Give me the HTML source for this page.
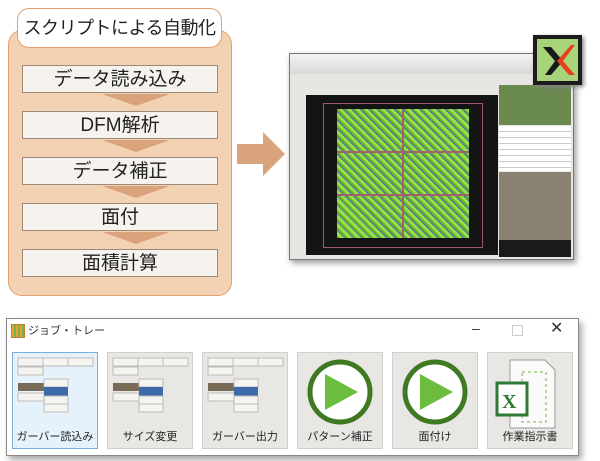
<!DOCTYPE html>
<html><head><meta charset="utf-8"><style>
body{margin:0;width:600px;height:461px;background:#fff;position:relative;overflow:hidden;font-family:"Liberation Sans","Noto Sans CJK JP",sans-serif}
.a{position:absolute}
.box{position:absolute;left:22px;width:196px;height:28px;background:#f6f3ef;border:1px solid #9a8a7a;box-sizing:border-box;text-align:center;font-size:19px;line-height:27px;color:#222}
.chev{position:absolute;left:102px;width:0;height:0;border-left:34px solid transparent;border-right:34px solid transparent;border-top:12px solid #d9a47c}
.btn{position:absolute;top:352px;width:86px;height:97px;background:#e9e7e4;border:1px solid #d2d0cc;box-sizing:border-box}
.btn span{position:absolute;left:0;right:0;bottom:4px;text-align:center;font-size:11px;color:#222}
</style></head><body>
<div class="a" style="left:8px;top:30px;width:224px;height:266px;background:#f3d2b3;border:1.5px solid #e3a070;border-radius:14px;box-sizing:border-box"></div>
<div class="a" style="left:17px;top:8px;width:205px;height:40px;background:#fff;border:1.5px solid #e3a070;border-radius:12px;box-sizing:border-box;text-align:center;font-size:18px;letter-spacing:-0.5px;white-space:nowrap;line-height:38px;color:#222">スクリプトによる自動化</div>
<div class="box" style="top:65px">データ読み込み</div>
<div class="chev" style="top:94px"></div>
<div class="box" style="top:111px">DFM解析</div>
<div class="chev" style="top:140px"></div>
<div class="box" style="top:157px">データ補正</div>
<div class="chev" style="top:186px"></div>
<div class="box" style="top:203px">面付</div>
<div class="chev" style="top:232px"></div>
<div class="box" style="top:249px">面積計算</div>
<svg class="a" style="left:237px;top:130px" width="50" height="48"><polygon points="0,14 26,14 26,2 48,24 26,46 26,34 0,34" fill="#d9a47c"/></svg>
<!-- screenshot -->
<div class="a" style="left:289px;top:53px;width:283px;height:205px;background:#e8e6e2;border:1px solid #777;box-shadow:2px 3px 6px #999"></div>
<div class="a" style="left:290px;top:54px;width:281px;height:20px;background:linear-gradient(#f4f4f4,#d8d8d8)"></div>
<div class="a" style="left:306px;top:95px;width:192px;height:160px;background:#141414"></div>
<div class="a" style="left:323px;top:103px;width:158px;height:143px;border:1px solid #9a5a6a"></div>
<div class="a" style="left:337px;top:109px;width:132px;height:129px;background:#8ccf3a;background-image:repeating-linear-gradient(45deg,#6cb02a 0 2px,#9ae048 2px 5px,#3f6fb0 5px 6px)"></div>
<div class="a" style="left:402px;top:109px;width:2px;height:129px;background:#a06070"></div>
<div class="a" style="left:337px;top:151px;width:132px;height:2px;background:#a06070"></div>
<div class="a" style="left:337px;top:194px;width:132px;height:2px;background:#a06070"></div>
<div class="a" style="left:499px;top:85px;width:72px;height:40px;background:#6a8a50"></div>
<div class="a" style="left:499px;top:126px;width:72px;height:45px;background:#f0f0f0;background-image:repeating-linear-gradient(#fff 0 5px,#ccc 5px 6px)"></div>
<div class="a" style="left:499px;top:172px;width:72px;height:85px;background:#8a8272"></div>
<div class="a" style="left:499px;top:240px;width:72px;height:17px;background:#1a1a1a"></div>
<div class="a" style="left:533px;top:35px;width:49px;height:50px;background:#1c1c1c;box-shadow:2px 2px 4px #888"></div>
<svg class="a" style="left:537px;top:39px" width="41" height="42"><rect width="41" height="42" fill="#a7d47a"/><polygon points="6,8 14,8 26,22 14,36 8,36 18,22" fill="#1a1a1a"/><polygon points="34,6 38,6 26,22 38,36 32,36 20,22" fill="#e8401c"/></svg>
<!-- job tray -->
<div class="a" style="left:6px;top:318px;width:573px;height:138px;background:#fff;border:1px solid #888;box-shadow:3px 4px 6px #aaa;box-sizing:border-box"></div>
<div class="a" style="left:11px;top:324px;width:12px;height:12px;background:repeating-linear-gradient(90deg,#e8a030 0 2px,#7ab04a 2px 4px);border:1px solid #c08030"></div>
<div class="a" style="left:28px;top:322px;font-size:11px;color:#333">ジョブ・トレー</div>
<div class="a" style="left:472px;top:320px;font-size:14px;color:#333">–</div>
<div class="a" style="left:512px;top:325px;width:9px;height:9px;border:1px solid #ccc"></div>
<div class="a" style="left:550px;top:318px;font-size:16px;color:#333">✕</div>
<div class="btn" style="left:12px;background:#e6f2fb;border-color:#7aaee0"><span>ガーバー読込み</span></div>
<div class="btn" style="left:107px"><span>サイズ変更</span></div>
<div class="btn" style="left:202px"><span>ガーバー出力</span></div>
<div class="btn" style="left:297px"><span>パターン補正</span></div>
<div class="btn" style="left:392px"><span>面付け</span></div>
<div class="btn" style="left:487px"><span>作業指示書</span></div>
<svg class="a" style="left:0;top:0" width="600" height="461">
<g id="t">
<rect x="18" y="358" width="25" height="8" fill="#f6f4f0" stroke="#bbb"/>
<rect x="43" y="358" width="25" height="8" fill="#f6f4f0" stroke="#bbb"/>
<rect x="68" y="358" width="25" height="8" fill="#f6f4f0" stroke="#bbb"/>
<rect x="18" y="367" width="25" height="8" fill="#f6f4f0" stroke="#bbb"/>
<rect x="18" y="383" width="26" height="8" fill="#7a6a58"/>
<rect x="18" y="393" width="26" height="8" fill="#f6f4f0" stroke="#bbb"/>
<rect x="44" y="379" width="24" height="8" fill="#f6f4f0" stroke="#bbb"/>
<rect x="44" y="387" width="24" height="9" fill="#3d6aa8"/>
<rect x="44" y="396" width="24" height="8" fill="#f6f4f0" stroke="#bbb"/>
<rect x="44" y="404" width="24" height="8" fill="#f6f4f0" stroke="#bbb"/>
</g>
<use href="#t" x="95"/><use href="#t" x="190"/>
<circle cx="340" cy="392" r="30" fill="#fff" stroke="#3f7a22" stroke-width="5"/>
<polygon points="325,374 325,410 358,392" fill="#6cbd3e"/>
<circle cx="435" cy="392" r="30" fill="#fff" stroke="#3f7a22" stroke-width="5"/>
<polygon points="420,374 420,410 453,392" fill="#6cbd3e"/>
<path d="M510 360 h35 l10 10 v58 h-45z" fill="#fafafa" stroke="#999"/>
<rect x="522" y="372" width="24" height="50" fill="none" stroke="#7ab04a" stroke-dasharray="3 3"/>
<rect x="497" y="383" width="30" height="32" fill="#fff" stroke="#2f7a36" stroke-width="3"/>
<text x="502" y="408" font-size="20" font-weight="bold" fill="#2f7a36" font-family="Liberation Serif">X</text>
</svg>
</body></html>
